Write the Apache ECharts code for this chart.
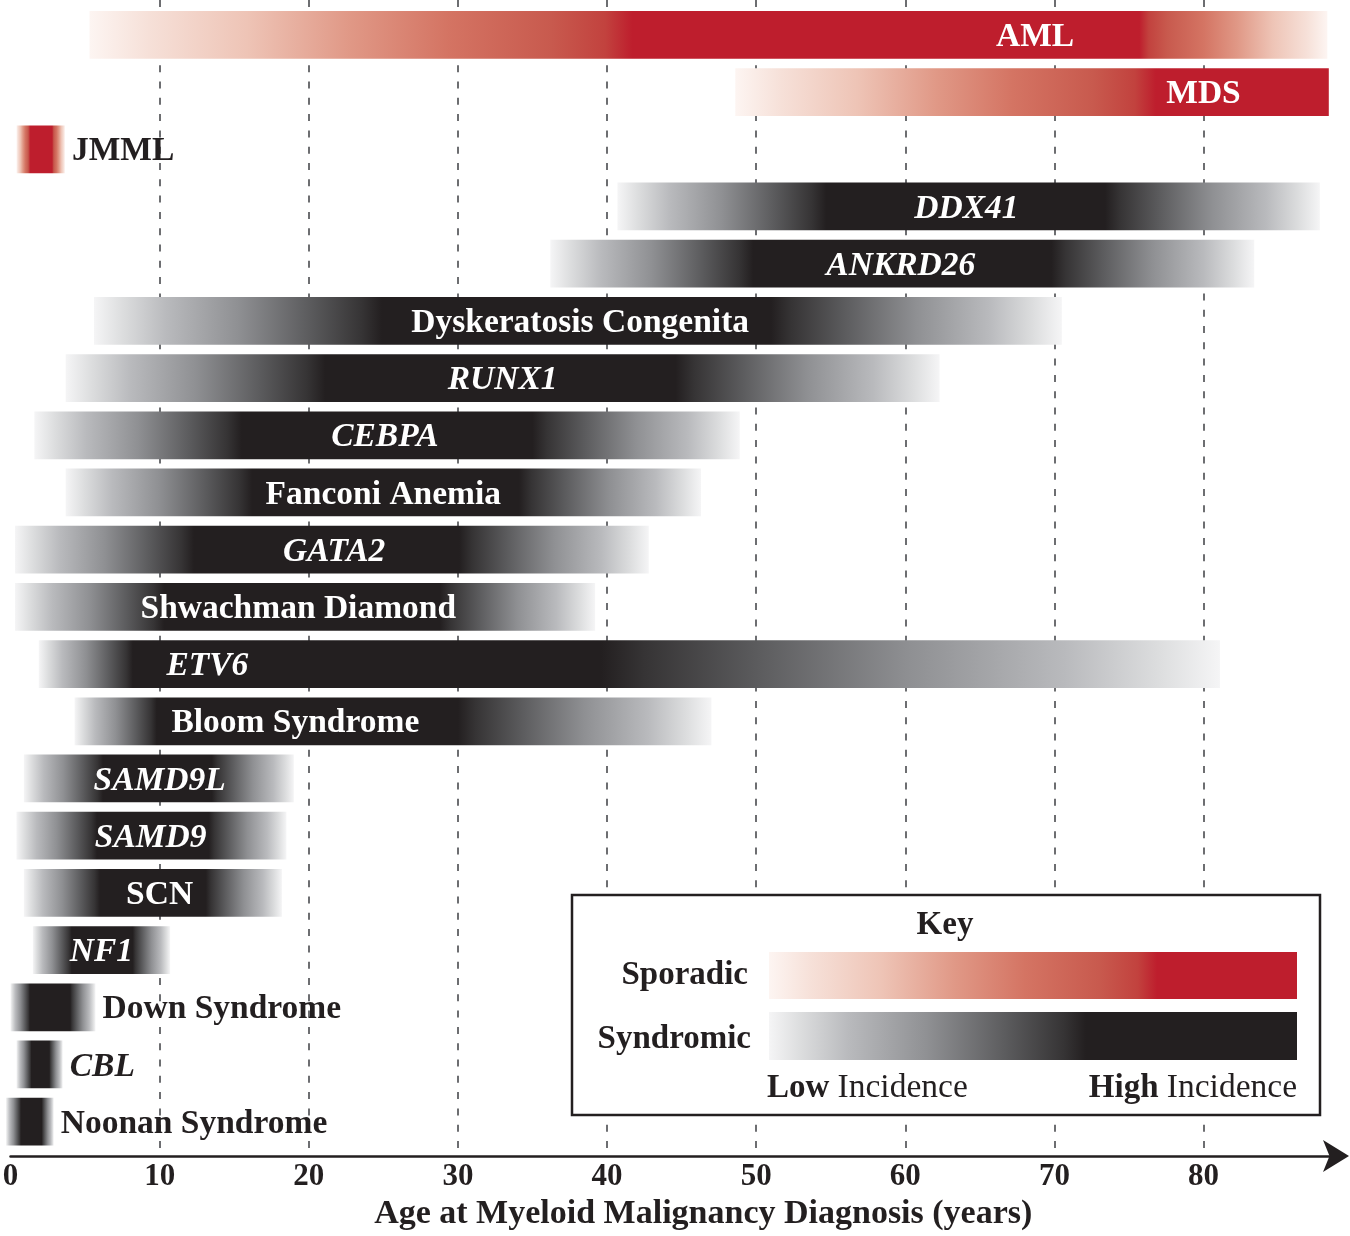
<!DOCTYPE html>
<html><head><meta charset="utf-8">
<script src="https://cdn.jsdelivr.net/npm/echarts@6/dist/echarts.min.js"></script>
<style>html,body{margin:0;padding:0;background:#fff}#c{width:1350px;height:1236px}</style>
</head><body><div id="c"></div>
<script>
// ---- data (ages in years) ----
const categories = ['AML','MDS','JMML','DDX41','ANKRD26','Dyskeratosis Congenita','RUNX1','CEBPA','Fanconi Anemia','GATA2','Shwachman Diamond','ETV6','Bloom Syndrome','SAMD9L','SAMD9','SCN','NF1','Down Syndrome','CBL','Noonan Syndrome'];
const kind = ['sporadic','sporadic','sporadic','syndromic','syndromic','syndromic','syndromic','syndromic','syndromic','syndromic','syndromic','syndromic','syndromic','syndromic','syndromic','syndromic','syndromic','syndromic','syndromic','syndromic'];
const isGene = [false,false,false,true,true,false,true,true,false,true,false,true,false,true,true,false,true,false,true,false];
const startAge = [5.3, 48.6, 0.4, 40.7, 36.2, 5.6, 3.7, 1.6, 3.7, 0.3, 0.3, 1.9, 4.3, 0.9, 0.4, 0.9, 1.5, 0.0, 0.4, -0.3];
const peakFrom = [41.7, 76.8, 1.3, 54.7, 49.8, 24.9, 21.1, 15.5, 16.2, 12.3, 10.3, 8.2, 9.8, 6.2, 5.8, 6.0, 4.1, 1.3, 1.4, 0.7];
const peakTo   = [75.7, 88.4, 2.8, 73.4, 69.8, 51.0, 44.6, 35.0, 34.1, 30.1, 28.8, 39.6, 30.0, 13.5, 13.3, 13.1, 8.2, 4.0, 2.6, 2.1];
const endAge   = [88.3, 88.4, 3.65, 87.8, 83.4, 70.5, 62.3, 48.9, 46.3, 42.8, 39.2, 81.1, 47.0, 19.0, 18.5, 18.2, 10.7, 5.7, 3.5, 2.9];
const labelAt  = [68.7, 80.0, null, 64.1, 59.7, 38.2, 33.0, 25.1, 25.0, 21.7, 19.3, 13.2, 19.1, 10.0, 9.4, 10.0, 6.1, null, null, null];
const xTicks = [0,10,20,30,40,50,60,70,80];
const xTitle = 'Age at Myeloid Malignancy Diagnosis (years)';

// ---- styles ----
const FONT = '"Liberation Serif", "Times New Roman", serif';
const RED_RAMP = [[0,'#fdf5f2'],[0.11,'#f6e0d8'],[0.29,'#eec4b6'],[0.48,'#e09886'],[0.66,'#d47463'],[0.85,'#c85a4e'],[0.95,'#c2423e'],[1,'#be1e2d']];
const GRAY_RAMP = [[0,'#f5f5f6'],[0.1,'#dcddde'],[0.25,'#b9babd'],[0.5,'#8f9093'],[0.75,'#5b5b5d'],[0.93,'#363435'],[1,'#231f20']];

function barStops(ramp, s, p0, p1, e) {
  const len = e - s;
  const a = (p0 - s) / len, b = (p1 - s) / len;
  const stops = [];
  const solid = ramp[ramp.length - 1][1];
  if (a > 0) ramp.forEach(([t, c]) => stops.push({offset: a * t, color: c}));
  else stops.push({offset: 0, color: solid});
  if (b < 1) for (let k = ramp.length - 1; k >= 0; k--) { const [t, c] = ramp[k]; stops.push({offset: b + (1 - b) * (1 - t), color: c}); }
  else stops.push({offset: 1, color: solid});
  return stops;
}
function keyStops(ramp, until) {
  const stops = ramp.map(([t, c]) => ({offset: t * until, color: c}));
  stops.push({offset: 1, color: ramp[ramp.length - 1][1]});
  return stops;
}

const seriesData = categories.map((c, i) => [i, startAge[i], peakFrom[i], peakTo[i], endAge[i]]);

const chart = echarts.init(document.getElementById('c'), null, {renderer: 'canvas'});

chart.setOption({
  animation: false,
  backgroundColor: '#ffffff',
  grid: {left: 10.5, right: 13, top: 0, bottom: 80, containLabel: false, outerBoundsMode: 'none'},
  xAxis: {
    type: 'value', min: 0, max: 88.95, interval: 10, position: 'bottom',
    axisLine: {show: true, onZero: false, symbol: ['none', 'arrow'], symbolSize: [24, 26], symbolOffset: [0, 12], lineStyle: {color: '#231f20', width: 2.5}},
    axisTick: {show: false},
    axisLabel: {
      formatter: v => (xTicks.indexOf(v) >= 0 ? String(v) : ''),
      color: '#231f20', fontFamily: FONT, fontWeight: 'bold', fontSize: 31, margin: 5
    },
    splitLine: {show: true, showMinLine: false, showMaxLine: false, lineStyle: {color: '#6d6e71', width: 2, type: [7, 9.3]}},
    name: xTitle, nameLocation: 'middle', nameGap: 41,
    nameTextStyle: {color: '#231f20', fontFamily: FONT, fontWeight: 'bold', fontSize: 34, padding: [0, 0, 0, 59]}
  },
  yAxis: {type: 'value', inverse: true, min: -0.61, max: 19.6, show: false},
  series: [{
    type: 'custom',
    clip: false,
    encode: {x: [1, 2, 3, 4], y: 0},
    data: seriesData,
    renderItem: function (params, api) {
      const i = api.value(0);
      const s = api.value(1), p0 = api.value(2), p1 = api.value(3), e = api.value(4);
      const L = api.coord([s, i]), R = api.coord([e, i]);
      const h = api.size([0, 1])[1] * 0.835;
      const ramp = kind[i] === 'sporadic' ? RED_RAMP : GRAY_RAMP;
      const children = [{
        type: 'rect',
        shape: {x: L[0], y: L[1] - h / 2, width: R[0] - L[0], height: h},
        style: {fill: {type: 'linear', x: 0, y: 0, x2: 1, y2: 0, colorStops: barStops(ramp, s, p0, p1, e)}}
      }];
      const inside = labelAt[i] != null;
      const tx = inside ? api.coord([labelAt[i], i])[0] : R[0] + 7;
      const font = (isGene[i] ? 'italic ' : '') + 'bold 33.5px ' + FONT;
      children.push({
        type: 'text',
        x: tx, y: L[1] + 2.5,
        style: {
          text: categories[i], font: font,
          fill: inside ? '#ffffff' : '#231f20',
          textAlign: inside ? 'center' : 'left', align: inside ? 'center' : 'left',
          textVerticalAlign: 'middle', verticalAlign: 'middle'
        }
      });
      return {type: 'group', children: children};
    }
  }],
  graphic: [
    {type: 'rect', z: 100, shape: {x: 572, y: 895, width: 748, height: 220}, style: {fill: '#ffffff', stroke: '#231f20', lineWidth: 2.5}},
    {type: 'text', z: 101, x: 945, y: 925, style: {text: 'Key', font: 'bold 33px ' + FONT, fill: '#231f20', textAlign: 'center', align: 'center', textVerticalAlign: 'middle', verticalAlign: 'middle'}},
    {type: 'text', z: 101, x: 748, y: 975, style: {text: 'Sporadic', font: 'bold 33px ' + FONT, fill: '#231f20', textAlign: 'right', align: 'right', textVerticalAlign: 'middle', verticalAlign: 'middle'}},
    {type: 'text', z: 101, x: 751, y: 1039, style: {text: 'Syndromic', font: 'bold 33px ' + FONT, fill: '#231f20', textAlign: 'right', align: 'right', textVerticalAlign: 'middle', verticalAlign: 'middle'}},
    {type: 'rect', z: 101, shape: {x: 769, y: 952, width: 528, height: 47}, style: {fill: {type: 'linear', x: 0, y: 0, x2: 1, y2: 0, colorStops: keyStops(RED_RAMP, 0.735)}}},
    {type: 'rect', z: 101, shape: {x: 769, y: 1012, width: 528, height: 48}, style: {fill: {type: 'linear', x: 0, y: 0, x2: 1, y2: 0, colorStops: keyStops(GRAY_RAMP, 0.6)}}},
    {type: 'text', z: 101, x: 767, y: 1088, style: {text: '{b|Low} {r|Incidence}', rich: {b: {fontWeight: 'bold', fontSize: 33, fontFamily: FONT, fill: '#231f20', color: '#231f20'}, r: {fontWeight: 'normal', fontSize: 33.5, fontFamily: FONT, fill: '#231f20', color: '#231f20'}}, font: '33px ' + FONT, fill: '#231f20', textAlign: 'left', align: 'left', textVerticalAlign: 'middle', verticalAlign: 'middle'}},
    {type: 'text', z: 101, x: 1297, y: 1088, style: {text: '{b|High} {r|Incidence}', rich: {b: {fontWeight: 'bold', fontSize: 33, fontFamily: FONT, fill: '#231f20', color: '#231f20'}, r: {fontWeight: 'normal', fontSize: 33.5, fontFamily: FONT, fill: '#231f20', color: '#231f20'}}, font: '33px ' + FONT, fill: '#231f20', textAlign: 'right', align: 'right', textVerticalAlign: 'middle', verticalAlign: 'middle'}}
  ]
});
</script>
</body></html>
